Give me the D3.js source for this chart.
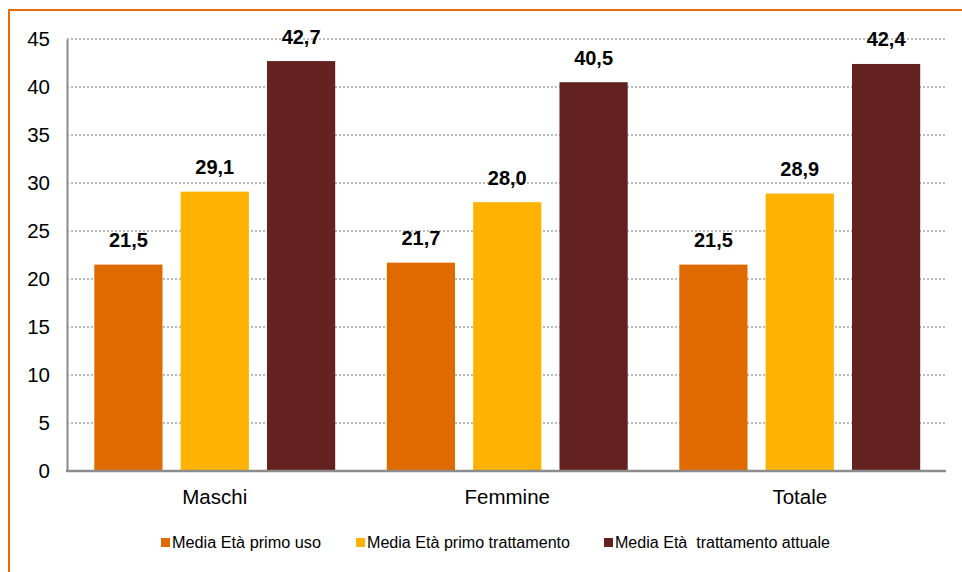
<!DOCTYPE html>
<html><head><meta charset="utf-8">
<script src="https://cdn.jsdelivr.net/npm/d3@7"></script>
<style>body{margin:0;background:#fff}svg{display:block}text{font-family:"Liberation Sans",Arial,sans-serif}</style>
</head><body><svg id="c" width="962" height="572"></svg>
<script>
const categories = ["Maschi", "Femmine", "Totale"];
const seriesNames = ["Media Età primo uso", "Media Età primo trattamento", "Media Età  trattamento attuale"];
const primoUso = [21.5, 21.7, 21.5];
const primoTrattamento = [29.1, 28.0, 28.9];
const trattamentoAttuale = [42.7, 40.5, 42.4];
const yTicks = [0, 5, 10, 15, 20, 25, 30, 35, 40, 45];
const colors = ["#DF6B00", "#FFB300", "#632220"];

const series = [primoUso, primoTrattamento, trattamentoAttuale];
const svg = d3.select("#c");

// frame
svg.append("path").attr("d", "M9,580 L9,10 L970,10").attr("fill", "none")
  .attr("stroke", "#E46C0A").attr("stroke-width", 2);

const pLeft = 67, pRight = 946, pTop = 39, pBottom = 471;
const x = d3.scaleBand().domain(categories).range([68.5, 946]).paddingInner(0).paddingOuter(0);
const y = d3.scaleLinear().domain([0, 45]).range([pBottom, pTop]);
const xs = d3.scaleBand().domain([0, 1, 2]).range([25.8, x.bandwidth() - 25.8]).paddingInner(0.21);

// grid
svg.append("g").selectAll("line").data(yTicks.filter(d => d > 0)).join("line")
  .attr("x1", pLeft).attr("x2", pRight).attr("y1", d => y(d)).attr("y2", d => y(d))
  .attr("stroke", "#A6A6A6").attr("stroke-width", 1.5).attr("stroke-dasharray", "2,2");

// bars
const g = svg.append("g");
categories.forEach((c, ci) => {
  series.forEach((s, si) => {
    const bx = x(c) + xs(si);
    g.append("rect").attr("x", bx).attr("width", xs.bandwidth())
      .attr("y", y(s[ci])).attr("height", y(0) - y(s[ci])).attr("fill", colors[si]);
    g.append("text").attr("x", bx + xs.bandwidth() / 2).attr("y", y(s[ci]) - 17.5)
      .attr("text-anchor", "middle").attr("font-size", 20).attr("font-weight", "bold")
      .attr("fill", "#000").text(d3.format(".1f")(s[ci]).replace(".", ","));
  });
});

// axes
const yAxis = d3.axisLeft(y).tickValues(yTicks).tickSize(0).tickPadding(17);
const ya = svg.append("g").attr("transform", `translate(${pLeft},0)`).call(yAxis);
ya.select(".domain").attr("stroke", "#8C8C8C").attr("stroke-width", 2);
ya.selectAll("text").attr("font-size", 20.5).attr("fill", "#000").attr("font-family", "Liberation Sans, Arial, sans-serif");

const xAxis = d3.axisBottom(x).tickSize(0).tickPadding(18);
const xa = svg.append("g").attr("transform", `translate(0,${pBottom})`).call(xAxis);
xa.select(".domain").remove();
xa.append("line").attr("x1", pLeft - 1).attr("x2", pRight).attr("y1", 0).attr("y2", 0)
  .attr("stroke", "#8C8C8C").attr("stroke-width", 2.5);
xa.selectAll("text").attr("font-size", 20.5).attr("fill", "#000").attr("font-family", "Liberation Sans, Arial, sans-serif");

// legend
const legX = [161, 356, 604];
const legW = [149, 203, 215];
const lg = svg.append("g");
seriesNames.forEach((n, i) => {
  lg.append("rect").attr("x", legX[i]).attr("y", 538).attr("width", 9).attr("height", 9).attr("fill", colors[i]);
  lg.append("text").attr("x", legX[i] + 11).attr("y", 547.5).attr("font-size", 16)
    .attr("textLength", legW[i]).attr("lengthAdjust", "spacingAndGlyphs")
    .attr("fill", "#000").style("white-space", "pre").text(n);
});
</script></body></html>
